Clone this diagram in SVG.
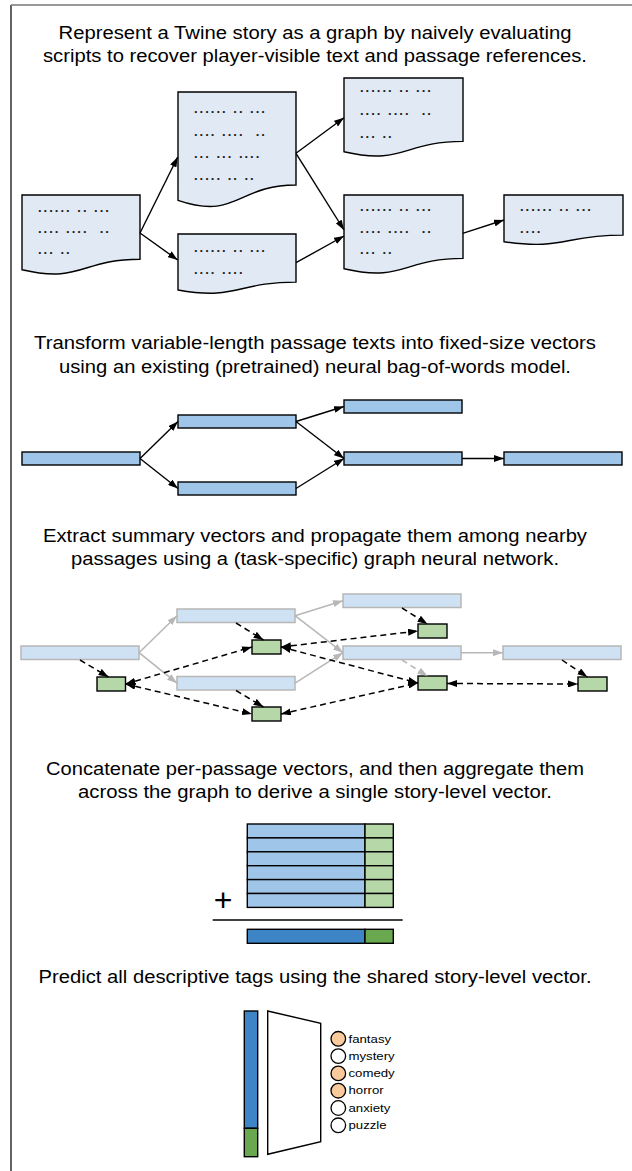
<svg xmlns="http://www.w3.org/2000/svg" width="632" height="1171" viewBox="0 0 632 1171">
<style>
.t{font-family:"Liberation Sans",Arial,sans-serif;font-size:17.5px;fill:#000;text-anchor:middle}
.d{font-family:"Liberation Sans",Arial,sans-serif;font-weight:bold;font-size:13px;letter-spacing:2px;fill:#222;white-space:pre}
.lb{font-family:"Liberation Sans",Arial,sans-serif;font-size:11.5px;fill:#000}
.doc{fill:#e1e9f4;stroke:#000;stroke-width:1.4}
.b2{fill:#9fc5e8;stroke:#000;stroke-width:1.4}
.b3{fill:#cfe2f3;stroke:#b7b7b7;stroke-width:1.5}
.g{fill:#b6d7a8;stroke:#000;stroke-width:1.4}
.a{fill:none;stroke:#000;stroke-width:1.4;marker-end:url(#ah)}
.ag{fill:none;stroke:#b7b7b7;stroke-width:1.5;marker-end:url(#ahg)}
.dk{fill:none;stroke:#000;stroke-width:1.5;stroke-dasharray:6 4;marker-end:url(#ah)}
.dg{fill:none;stroke:#b7b7b7;stroke-width:1.5;stroke-dasharray:6 4;marker-end:url(#ahg)}
.bi{fill:none;stroke:#000;stroke-width:1.5;stroke-dasharray:6 4;marker-start:url(#ah);marker-end:url(#ah)}
.c{stroke:#000;stroke-width:1.3}
</style>
<defs>
<marker id="ah" viewBox="0 0 10 7" refX="10" refY="3.5" markerWidth="10" markerHeight="7" markerUnits="userSpaceOnUse" orient="auto-start-reverse"><path d="M0,0 L10,3.5 L0,7 z" fill="#000"/></marker>
<marker id="ahg" viewBox="0 0 10 7" refX="10" refY="3.5" markerWidth="10" markerHeight="7" markerUnits="userSpaceOnUse" orient="auto-start-reverse"><path d="M0,0 L10,3.5 L0,7 z" fill="#b7b7b7"/></marker>
</defs>
<rect width="632" height="1171" fill="#fff"/>
<path d="M11,1171 V5" stroke="#222" stroke-width="1.4" fill="none"/>
<path d="M11,5 H632" stroke="#777" stroke-width="1.5" fill="none"/>

<!-- Section 1 -->
<text class="t" x="315" y="38.5" textLength="513" lengthAdjust="spacingAndGlyphs">Represent a Twine story as a graph by naively evaluating</text>
<text class="t" x="315" y="61.5" textLength="544" lengthAdjust="spacingAndGlyphs">scripts to recover player-visible text and passage references.</text>

<g id="docA"><path class="doc" d="M22,195 H140 V259.2 C81,259.2 81,283.6 22,269.7 Z"/>
<text class="d" x="38" y="211.5">...... .. ...</text><text class="d" x="38" y="232.5">.... ....  ..</text><text class="d" x="38" y="254">... ..</text></g>
<g id="docB"><path class="doc" d="M178,92 H296 V185 C237,185 237,220.5 178,200.3 Z"/>
<text class="d" x="194" y="113">...... .. ...</text><text class="d" x="194" y="136">.... ....  ..</text><text class="d" x="194" y="158">... ... ....</text><text class="d" x="194" y="180">..... .. ..</text></g>
<g id="docC"><path class="doc" d="M178,234 H296 V282.1 C237,282.1 237,300.5 178,290 Z"/>
<text class="d" x="194" y="252">...... .. ...</text><text class="d" x="194" y="274">.... ....</text></g>
<g id="docD"><path class="doc" d="M344,78 H463 V141.4 C403.5,141.4 403.5,165.5 344,151.8 Z"/>
<text class="d" x="360" y="91.5">...... .. ...</text><text class="d" x="360" y="115">.... ....  ..</text><text class="d" x="360" y="137.5">... ..</text></g>
<g id="docE"><path class="doc" d="M344,195 H463 V258.4 C403.5,258.4 403.5,282.5 344,268.8 Z"/>
<text class="d" x="360" y="211">...... .. ...</text><text class="d" x="360" y="232.5">.... ....  ..</text><text class="d" x="360" y="254">... ..</text></g>
<g id="docF"><path class="doc" d="M504,195 H623 V235.1 C563.5,235.1 563.5,250.4 504,241.7 Z"/>
<text class="d" x="520" y="211">...... .. ...</text><text class="d" x="520" y="232.5">....</text></g>

<g id="edges1">
<path class="a" d="M140,233 L177.7,157"/>
<path class="a" d="M140,233 L177.7,260"/>
<path class="a" d="M296,153.3 L344,117.7"/>
<path class="a" d="M296,153.3 L344,230"/>
<path class="a" d="M296,262.7 L344,236"/>
<path class="a" d="M462.7,233.3 L504,220"/>
</g>

<!-- Section 2 -->
<text class="t" x="315" y="349" textLength="562" lengthAdjust="spacingAndGlyphs">Transform variable-length passage texts into fixed-size vectors</text>
<text class="t" x="315" y="372.5" textLength="512" lengthAdjust="spacingAndGlyphs">using an existing (pretrained) neural bag-of-words model.</text>
<g id="v2L"><rect class="b2" x="22" y="452" width="118" height="13"/></g>
<g id="v2TM"><rect class="b2" x="178" y="415" width="118" height="13"/></g>
<g id="v2BM"><rect class="b2" x="178" y="482" width="118" height="13"/></g>
<g id="v2TR"><rect class="b2" x="344" y="400" width="118" height="13"/></g>
<g id="v2MR"><rect class="b2" x="344" y="452" width="118" height="13"/></g>
<g id="v2R"><rect class="b2" x="504" y="452" width="118" height="13"/></g>
<g id="edges2">
<path class="a" d="M140,458.5 L178,421.5"/>
<path class="a" d="M140,458.5 L178,488.5"/>
<path class="a" d="M296,421.5 L344,406.5"/>
<path class="a" d="M296,421.5 L344,458.5"/>
<path class="a" d="M296,488.5 L344,458.5"/>
<path class="a" d="M462,458.5 L504,458.5"/>
</g>

<!-- Section 3 -->
<text class="t" x="315" y="541.7" textLength="544" lengthAdjust="spacingAndGlyphs">Extract summary vectors and propagate them among nearby</text>
<text class="t" x="315" y="565" textLength="488" lengthAdjust="spacingAndGlyphs">passages using a (task-specific) graph neural network.</text>
<g id="v3L"><rect class="b3" x="21" y="646" width="118" height="13.5"/></g>
<g id="v3TM"><rect class="b3" x="177" y="609" width="118" height="13.5"/></g>
<g id="v3BM"><rect class="b3" x="177" y="676.5" width="118" height="13.5"/></g>
<g id="v3TR"><rect class="b3" x="343" y="594" width="118" height="13.5"/></g>
<g id="v3MR"><rect class="b3" x="343" y="646" width="118" height="13.5"/></g>
<g id="v3R"><rect class="b3" x="503" y="646" width="118" height="13.5"/></g>
<g id="g1"><rect class="g" x="97" y="677" width="28.5" height="14"/></g>
<g id="g2"><rect class="g" x="252" y="640" width="29" height="14"/></g>
<g id="g3"><rect class="g" x="252" y="707" width="29" height="14"/></g>
<g id="g4"><rect class="g" x="418" y="624" width="29" height="14"/></g>
<g id="g5"><rect class="g" x="418" y="676" width="29" height="14"/></g>
<g id="g6"><rect class="g" x="578" y="677" width="29" height="14"/></g>
<g id="edges3">
<path class="ag" d="M139,652.7 L177,615.7"/>
<path class="ag" d="M139,652.7 L177,683.2"/>
<path class="ag" d="M295,615.7 L343,600.7"/>
<path class="ag" d="M295,615.7 L343,652.7"/>
<path class="ag" d="M295,683.2 L343,652.7"/>
<path class="ag" d="M461,652.7 L503,652.7"/>
<path class="dk" d="M80,660 L108.5,677"/>
<path class="dk" d="M236,623 L263.5,640"/>
<path class="dk" d="M236,690.5 L263.5,707"/>
<path class="dk" d="M402,608 L427.5,624"/>
<path class="dg" d="M402,660 L427.5,676"/>
<path class="dk" d="M562,660 L587.5,677"/>
<path class="bi" d="M125.5,684 L252,647"/>
<path class="bi" d="M125.5,684 L252,714"/>
<path class="bi" d="M281,647 L418,631"/>
<path class="bi" d="M281,647 L418,683"/>
<path class="bi" d="M281,714 L418,683"/>
<path class="bi" d="M447,683.5 L578,684"/>
</g>

<!-- Section 4 -->
<text class="t" x="315" y="775" textLength="538" lengthAdjust="spacingAndGlyphs">Concatenate per-passage vectors, and then aggregate them</text>
<text class="t" x="315" y="798.3" textLength="474" lengthAdjust="spacingAndGlyphs">across the graph to derive a single story-level vector.</text>
<g id="stack">
<rect class="b2" x="247.3" y="824" width="117.7" height="13.9"/>
<rect class="b2" x="247.3" y="837.9" width="117.7" height="13.9"/>
<rect class="b2" x="247.3" y="851.8" width="117.7" height="13.9"/>
<rect class="b2" x="247.3" y="865.7" width="117.7" height="13.9"/>
<rect class="b2" x="247.3" y="879.6" width="117.7" height="13.9"/>
<rect class="b2" x="247.3" y="893.5" width="117.7" height="13.9"/>
<rect class="g" x="365" y="824" width="28.3" height="13.9"/>
<rect class="g" x="365" y="837.9" width="28.3" height="13.9"/>
<rect class="g" x="365" y="851.8" width="28.3" height="13.9"/>
<rect class="g" x="365" y="865.7" width="28.3" height="13.9"/>
<rect class="g" x="365" y="879.6" width="28.3" height="13.9"/>
<rect class="g" x="365" y="893.5" width="28.3" height="13.9"/>
</g>
<g id="sum">
<text x="223" y="911" style="font-family:'Liberation Sans',Arial,sans-serif;font-size:32px;fill:#000;text-anchor:middle">+</text>
<path d="M212.7,920 H402.7" stroke="#000" stroke-width="1.5"/>
</g>
<g id="storyvec">
<rect x="247.3" y="929.3" width="117.7" height="14" fill="#3d85c6" stroke="#000" stroke-width="1.4"/>
<rect x="365" y="929.3" width="28.3" height="14" fill="#6aa84f" stroke="#000" stroke-width="1.4"/>
</g>

<!-- Section 5 -->
<text class="t" x="315" y="982.7" textLength="553" lengthAdjust="spacingAndGlyphs">Predict all descriptive tags using the shared story-level vector.</text>
<g id="vbar">
<rect x="244.3" y="1011" width="13.4" height="117.3" fill="#3d85c6" stroke="#000" stroke-width="1.4"/>
<rect x="244.3" y="1128.3" width="13.4" height="28.4" fill="#6aa84f" stroke="#000" stroke-width="1.4"/>
</g>
<g id="classifier"><path d="M267.7,1011 L320.7,1023.3 L320.7,1141.7 L267.7,1154.3 Z" fill="#fff" stroke="#000" stroke-width="1.4"/></g>
<g id="tags">
<circle class="c" cx="338.3" cy="1038.8" r="7.3" fill="#f9cb9c"/>
<circle class="c" cx="338.3" cy="1056.1" r="7.3" fill="#fff"/>
<circle class="c" cx="338.3" cy="1073.4" r="7.3" fill="#f9cb9c"/>
<circle class="c" cx="338.3" cy="1090.7" r="7.3" fill="#f9cb9c"/>
<circle class="c" cx="338.3" cy="1108" r="7.3" fill="#fff"/>
<circle class="c" cx="338.3" cy="1125.3" r="7.3" fill="#fff"/>
<text class="lb" x="348.5" y="1042.5" textLength="42.6" lengthAdjust="spacingAndGlyphs">fantasy</text>
<text class="lb" x="348.5" y="1059.8" textLength="46.2" lengthAdjust="spacingAndGlyphs">mystery</text>
<text class="lb" x="348.5" y="1077.1" textLength="46.2" lengthAdjust="spacingAndGlyphs">comedy</text>
<text class="lb" x="348.5" y="1094.4" textLength="35.2" lengthAdjust="spacingAndGlyphs">horror</text>
<text class="lb" x="348.5" y="1111.7" textLength="41.8" lengthAdjust="spacingAndGlyphs">anxiety</text>
<text class="lb" x="348.5" y="1129" textLength="38.1" lengthAdjust="spacingAndGlyphs">puzzle</text>
</g>
</svg>
